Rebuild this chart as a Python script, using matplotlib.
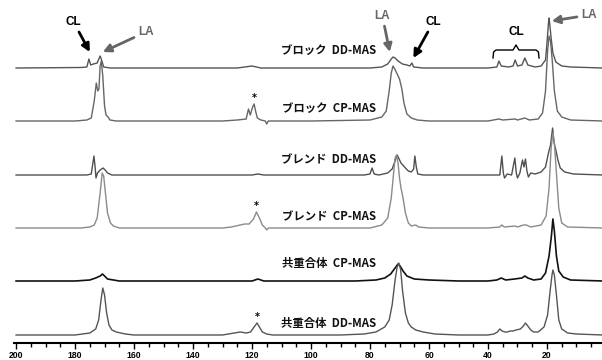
import matplotlib
matplotlib.use("Agg")
import matplotlib.pyplot as plt
from matplotlib.ticker import MultipleLocator

# ======================================================
# Spectra: (ppm, intensity above own baseline)
# ======================================================
block_dd_ppm = [200, 178, 176, 175.3, 174.7, 173.8, 172.5, 171.5, 171, 170.3, 168, 150, 125, 120, 117,
                100, 80, 76, 74, 72.8, 72.2, 71.5, 70.5, 69, 67.5, 66.5, 65.8, 65.2, 62, 40, 37, 36.3,
                35.5, 33, 31.5, 30.8, 30, 28.5, 27.5, 26.5, 24, 22, 20.5, 20, 19.5, 19.3, 19, 18.6, 18,
                17, 15, 12, 1]
block_dd_int = [0, 0.5, 1, 9, 3, 4, 5, 12, 8, 1, 0, 0, 0, 2, 0,
                0, 0, 1, 4, 9, 11, 10, 7, 4, 3, 2, 5, 1, 0, 0, 1, 7,
                2, 1, 2, 8, 2, 3, 10, 3, 1, 2, 8, 25, 45, 50, 42, 30, 15,
                6, 2, 1, 0]

block_cp_ppm = [200, 180, 176, 174.5, 173.5, 172.8, 172.3, 171.9, 171.5, 171.1, 170.6, 170.0, 169.5,
                168.8, 168.2, 166, 130, 125, 122, 121.2, 120.6, 119.8, 119.3, 118.8, 118.2, 117, 115.5,
                115, 114.5, 100, 80, 76, 74.5, 73.5, 72.8, 72.2, 71.6, 70.8, 70, 69.2, 68.5, 67.5, 66,
                64, 60, 40, 36.3, 35, 30.8, 30, 27.5, 26, 23, 21.5, 20.5, 19.8, 19.3, 18.8, 18.2, 17.5,
                16.5, 15, 12, 1]
block_cp_int = [0, 0, 1, 3, 20, 38, 30, 32, 55, 60, 45, 15, 6,
                4, 1, 0, 0, 1, 2, 12, 6, 14, 17, 10, 3, 1, 0,
                -3, 0, 0, 1, 4, 10, 30, 48, 55, 52, 47, 42, 32, 18, 7, 3,
                1, 0, 0, 2, 1, 2, 1, 3, 1, 2, 8, 30, 70, 85, 80, 60, 30,
                10, 4, 1, 0]

blend_dd_ppm = [200, 176, 174.5, 173.6, 173.2, 172.9, 172.4, 171.5, 170.5, 169.8, 169, 167.5, 120, 118,
                116, 100, 82, 80, 79.3, 78.6, 77, 74, 72.5, 71.5, 70.8, 70.3, 69.5, 68, 67, 66, 65.2,
                64.8, 64.3, 63.8, 62, 40, 36, 35.3, 34.8, 34.4, 33.5, 32, 30.9, 30.4, 30, 29.2, 28.3,
                27.8, 27.3, 26.8, 26.3, 25.5, 24, 22, 20.5, 19.5, 18.8, 18.1, 17.6, 17, 16.3, 15.5, 14,
                11, 1]
blend_dd_int = [0, 0, 1, 19, 8, -3, 2, 5, 7, 5, 2, 0, 0, 1,
                0, 0, 0, 1, 7, 1, 0, 2, 6, 14, 20, 17, 12, 7, 4, 3, 6,
                19, 8, 1, 0, 0, 0, 19, 2, -3, 1, 0, 17, 2, -3, 2, 15,
                8, 16, 4, -2, 2, 1, 3, 8, 22, 30, 47, 32, 25, 15, 7, 3,
                1, 0]

blend_cp_ppm = [200, 178, 175, 173.5, 172.5, 171.5, 170.8, 170.3, 169.7, 169, 168, 167, 165, 130, 127,
                124, 122.5, 121, 119.5, 118.5, 117.5, 116.5, 115.5, 115, 114.5, 100, 80, 76, 74, 72.8,
                72.0, 71.5, 71.0, 70.5, 70, 69.5, 68.8, 68, 67, 66, 64.5, 63.5, 60, 40, 36, 35.3, 34.5,
                30.8, 30, 28, 27, 25.5, 22, 20.3, 19.3, 18.6, 18.0, 17.5, 16.8, 16, 15, 13, 1]
blend_cp_int = [0, 0, 1, 3, 10, 35, 55, 52, 35, 15, 5, 2, 0, 0, 1,
                3, 4, 4, 9, 16, 10, 3, 0, -2, 0, 0, 0, 3, 10, 30,
                55, 70, 73, 65, 50, 40, 30, 15, 5, 2, 3, 1, 0, 0, 1, 3, 1,
                2, 1, 3, 3, 1, 3, 12, 40, 80, 95, 85, 55, 20, 5, 1, 0]

copo_cp_ppm = [200, 180, 175, 173, 171.5, 170.7, 170, 169, 167, 165, 150, 120, 118, 116, 100, 85, 78,
               75, 73, 71.5, 70.5, 69.8, 68.8, 67.5, 65, 60, 50, 40, 37, 35.5, 34, 31, 28.5, 27.5,
               26.5, 24.5, 22, 20.5, 19.3, 18.5, 18.0, 17.5, 16.8, 16, 14.5, 12, 1]
copo_cp_int = [0, 0, 1, 3, 5, 7, 5, 2, 1, 0, 0, 0, 2, 0, 0, 0, 1,
               3, 7, 13, 17, 15, 10, 5, 2, 1, 0, 0, 1, 3, 1, 2, 3, 5,
               3, 1, 2, 8, 25, 45, 62, 50, 25, 10, 4, 1, 0]

copo_dd_ppm = [200, 180, 175, 173, 172, 171.2, 170.6, 170, 169.3, 168.5, 167.5, 166, 163, 160, 130,
               126, 124, 122, 120.5, 119.3, 118.3, 117.5, 116.5, 115, 113, 100, 90, 82, 78, 75, 73.5,
               72.5, 71.5, 70.8, 70.2, 69.6, 69, 68, 67, 66, 64.5, 62, 58, 50, 40, 38, 36.8, 36, 35.2,
               34.3, 33.5, 32.5, 31.5, 30.5, 29, 28, 27.3, 26.5, 25.5, 24.5, 23, 21, 19.8, 18.9, 18.3,
               18.0, 17.5, 16.8, 16, 15, 13, 10, 1]
copo_dd_int = [0, 0, 2, 6, 15, 35, 47, 40, 22, 10, 5, 3, 1, 0, 0,
               2, 3, 2, 3, 8, 12, 8, 3, 1, 0, 0, 0, 1, 3, 8, 15,
               30, 55, 68, 72, 65, 45, 22, 12, 8, 5, 3, 1, 0, 0, 1, 3, 6, 4,
               3, 3, 4, 4, 5, 6, 9, 12, 9, 5, 3, 3, 8, 20, 45, 60,
               65, 60, 40, 15, 6, 2, 1, 0]

labels = ["ブロック  DD-MAS", "ブロック  CP-MAS", "ブレンド  DD-MAS",
          "ブレンド  CP-MAS", "共重合体  CP-MAS", "共重合体  DD-MAS"]
spectra = [(block_dd_ppm, block_dd_int), (block_cp_ppm, block_cp_int),
           (blend_dd_ppm, blend_dd_int), (blend_cp_ppm, blend_cp_int),
           (copo_cp_ppm, copo_cp_int), (copo_dd_ppm, copo_dd_int)]
star_ppm = [None, 119.3, None, 118.5, None, 118.3]

# ======================================================
# Layout / styles
# ======================================================
offsets = [275, 222, 168, 115, 62, 8]
label_dy = [18, 13, 15, 11, 18, 12]
colors = ["#555555", "#666666", "#505050", "#8a8a8a", "#111111", "#555555"]
widths = [1.0, 1.0, 1.0, 1.0, 1.2, 1.0]

jp = ["Noto Sans CJK JP", "DejaVu Sans"]

fig = plt.figure(figsize=(6.02, 3.6), dpi=100)
ax = fig.add_axes([14 / 602, 17 / 360, 1 - 14 / 602, 1 - 17 / 360])

for (ppm, inten), off, col, lw, lab, dy, sp in zip(
        spectra, offsets, colors, widths, labels, label_dy, star_ppm):
    ax.plot(ppm, [v + off for v in inten], color=col, linewidth=lw)
    ax.text(94, off + dy, lab, ha="center", va="center", fontsize=8.2,
            fontweight="bold", family=jp, color="#111111")
    if sp is not None:
        top = max(v for p, v in zip(ppm, inten) if abs(p - sp) < 3)
        ax.text(sp, off + top + 6, "*", ha="center", va="center",
                fontsize=7, fontweight="bold", color="black")

# ------------------------------------------------------
# Peak assignment arrows
# ------------------------------------------------------
ann_font = dict(fontsize=8.5, fontweight="bold", family=["Liberation Sans", "DejaVu Sans"])
black_arrow = dict(arrowstyle="-|>,head_length=0.55,head_width=0.28", color="black", lw=2.0,
                   shrinkA=1, shrinkB=0)
gray_arrow = dict(arrowstyle="-|>,head_length=0.55,head_width=0.28", color="#666666", lw=2.0,
                  shrinkA=1, shrinkB=0)

ax.annotate("CL", xy=(175.0, 291), xytext=(180.5, 321), ha="center", va="center",
            color="black", arrowprops=black_arrow, **ann_font)
ax.annotate("LA", xy=(170.6, 291), xytext=(156, 311), ha="center", va="center",
            color="#666666", arrowprops=gray_arrow, **ann_font)
ax.annotate("LA", xy=(73.3, 291), xytext=(75.8, 327), ha="center", va="center",
            color="#666666", arrowprops=gray_arrow, **ann_font)
ax.annotate("CL", xy=(65.3, 285), xytext=(58.5, 321), ha="center", va="center",
            color="black", arrowprops=black_arrow, **ann_font)
ax.annotate("LA", xy=(18.4, 322), xytext=(5.8, 328), ha="center", va="center",
            color="#666666", arrowprops=gray_arrow, **ann_font)

# CL bracket over the methylene peaks
ax.text(30.5, 311, "CL", ha="center", va="center", color="black", **ann_font)
bx = [38.3, 38.1, 37.3, 31.5, 30.5, 29.5, 23.7, 22.9, 22.7]
by = [285, 291, 293, 293, 298, 293, 293, 291, 285]
ax.plot(bx, by, color="black", linewidth=1.0)

# ======================================================
# Styling
# ======================================================
ax.set_xlim(200.7, 1.35)
ax.set_ylim(0, 343)
for s in ["top", "left", "right"]:
    ax.spines[s].set_visible(False)
ax.spines["bottom"].set_linewidth(1.5)
ax.set_yticks([])
ax.xaxis.set_minor_locator(MultipleLocator(5))
ax.set_xticks(range(200, 19, -20))
ax.tick_params(axis="x", which="major", direction="out", length=4, width=1, pad=2,
               labelsize=6.2)
ax.tick_params(axis="x", which="minor", direction="out", length=3, width=1)
for t in ax.get_xticklabels():
    t.set_fontweight("bold")
    t.set_family("Liberation Sans")
ax.patch.set_visible(False)

fig.savefig("out.png", dpi=100)
